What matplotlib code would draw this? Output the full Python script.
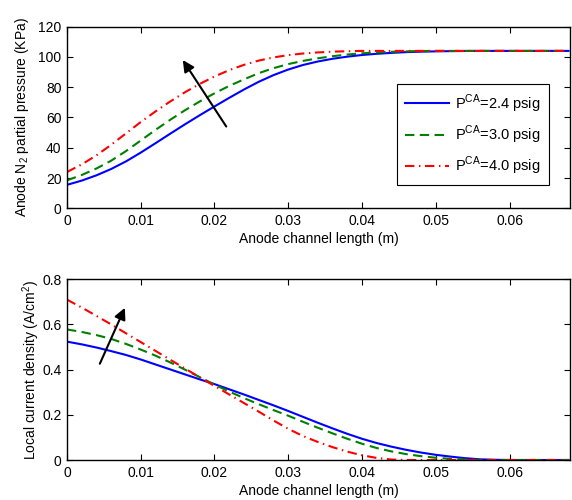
import numpy as np
import matplotlib
matplotlib.use('Agg')
import matplotlib.pyplot as plt

plt.rcParams['font.family'] = ['Liberation Sans', 'DejaVu Sans']
plt.rcParams['mathtext.fontset'] = 'custom'
plt.rcParams['mathtext.rm'] = 'Liberation Sans'
plt.rcParams['font.size'] = 10

# channel position (mm)
x_mm = [0, 2, 4, 6, 8, 10, 12, 14, 16, 18, 20, 22, 24, 26, 28, 30, 32, 34,
        36, 38, 40, 42, 44, 46, 48, 50, 52, 54, 56, 58, 60, 62, 64, 66, 68]

# anode N2 partial pressure (KPa)
n2_24 = [15.5, 18.3, 21.8, 26.0, 31.0, 36.8, 43.0, 49.3, 55.5, 61.5, 67.3, 73.0,
         78.5, 83.6, 88.0, 91.7, 94.7, 97.0, 98.8, 100.2, 101.3, 102.1, 102.7,
         103.2, 103.5, 103.7, 103.85, 103.95, 104, 104, 104, 104, 104, 104, 104]
n2_30 = [18.5, 22.0, 26.3, 31.5, 37.8, 44.8, 51.8, 58.5, 64.8, 70.6, 76.0, 80.9,
         85.2, 89.3, 92.6, 95.3, 97.4, 99.1, 100.5, 101.6, 102.4, 103.0, 103.4,
         103.7, 103.9, 104, 104, 104, 104, 104, 104, 104, 104, 104, 104]
n2_40 = [24.0, 29.0, 35.0, 42.0, 49.5, 57.0, 64.0, 70.6, 76.7, 82.2, 87.1, 91.3,
         94.8, 97.6, 99.7, 101.2, 102.3, 103.0, 103.5, 103.8, 104, 104, 104,
         104, 104, 104, 104, 104, 104, 104, 104, 104, 104, 104, 104]

# local current density (A/cm2)
cd_24 = [0.524, 0.512, 0.498, 0.482, 0.465, 0.445, 0.423, 0.401, 0.379, 0.357,
         0.336, 0.313, 0.290, 0.266, 0.242, 0.217, 0.191, 0.165, 0.140, 0.116,
         0.094, 0.075, 0.059, 0.045, 0.033, 0.023, 0.015, 0.008, 0.003, 0.001,
         0, 0, 0, 0, 0]
cd_30 = [0.578, 0.567, 0.553, 0.536, 0.514, 0.489, 0.462, 0.432, 0.400, 0.367,
         0.334, 0.303, 0.274, 0.247, 0.221, 0.196, 0.169, 0.143, 0.118, 0.094,
         0.072, 0.053, 0.038, 0.026, 0.017, 0.010, 0.005, 0.002, 0, 0,
         0, 0, 0, 0, 0]
cd_40 = [0.710, 0.675, 0.638, 0.600, 0.561, 0.522, 0.483, 0.444, 0.405, 0.366,
         0.328, 0.290, 0.252, 0.214, 0.175, 0.138, 0.106, 0.080, 0.057, 0.037,
         0.021, 0.009, 0.002, 0, 0, 0, 0, 0, 0, 0,
         0, 0, 0, 0, 0]

labels = [r'P$^{\mathrm{CA}}$=2.4 psig', r'P$^{\mathrm{CA}}$=3.0 psig',
          r'P$^{\mathrm{CA}}$=4.0 psig']
colors = ['#0000ff', '#008000', '#ff0000']
dash_styles = [None, (4.5, 2.6), (4.5, 2.2, 0.7, 2.2)]

x = np.array(x_mm) / 1000.0

fig = plt.figure(figsize=(5.72, 5.0), dpi=100)
ax1 = fig.add_axes([0.1171, 0.5834, 0.8794, 0.3632])
ax2 = fig.add_axes([0.1171, 0.0800, 0.8794, 0.3614])


def draw(ax, series, with_labels):
    for s, lab, c, d in zip(series, labels, colors, dash_styles):
        line, = ax.plot(x, s, color=c, lw=1.5,
                        label=lab if with_labels else None)
        if d is not None:
            line.set_dashes(d)


draw(ax1, [n2_24, n2_30, n2_40], True)
draw(ax2, [cd_24, cd_30, cd_40], False)

ax1.set_ylim(0, 120)
ax1.set_yticks([0, 20, 40, 60, 80, 100, 120])
ax2.set_ylim(0, 0.8)
ax2.set_yticks([0, 0.2, 0.4, 0.6, 0.8])
ax2.set_yticklabels(['0', '0.2', '0.4', '0.6', '0.8'])

for ax in (ax1, ax2):
    ax.set_xlim(0, 0.0682)
    ax.set_xticks([0, 0.01, 0.02, 0.03, 0.04, 0.05, 0.06])
    ax.set_xticklabels(['0', '0.01', '0.02', '0.03', '0.04', '0.05', '0.06'])
    ax.tick_params(direction='in', top=True, right=True, length=4, width=0.8,
                   labelsize=10, pad=4)
    for sp in ax.spines.values():
        sp.set_linewidth(1.0)
    ax.set_xlabel('Anode channel length (m)', labelpad=3)

ax1.set_ylabel(r'Anode N$_2$ partial pressure (KPa)', labelpad=5)
ax2.set_ylabel(r'Local current density (A/cm$^2$)', labelpad=0)

leg = ax1.legend(loc='upper left', bbox_to_anchor=(0.657, 0.683),
                 borderaxespad=0, fancybox=False, edgecolor='black',
                 framealpha=1, handlelength=3.0, labelspacing=0.6,
                 borderpad=0.55, handletextpad=0.4, fontsize=10.5)
leg.get_frame().set_linewidth(0.8)

ax1.annotate('', xy=(0.0155, 99.5), xytext=(0.0218, 52.5),
             arrowprops=dict(arrowstyle='-|>', color='black', lw=1.5,
                             mutation_scale=17))
ax2.annotate('', xy=(0.0080, 0.685), xytext=(0.0043, 0.415),
             arrowprops=dict(arrowstyle='-|>', color='black', lw=1.5,
                             mutation_scale=17))

fig.savefig('out.png', dpi=100)
